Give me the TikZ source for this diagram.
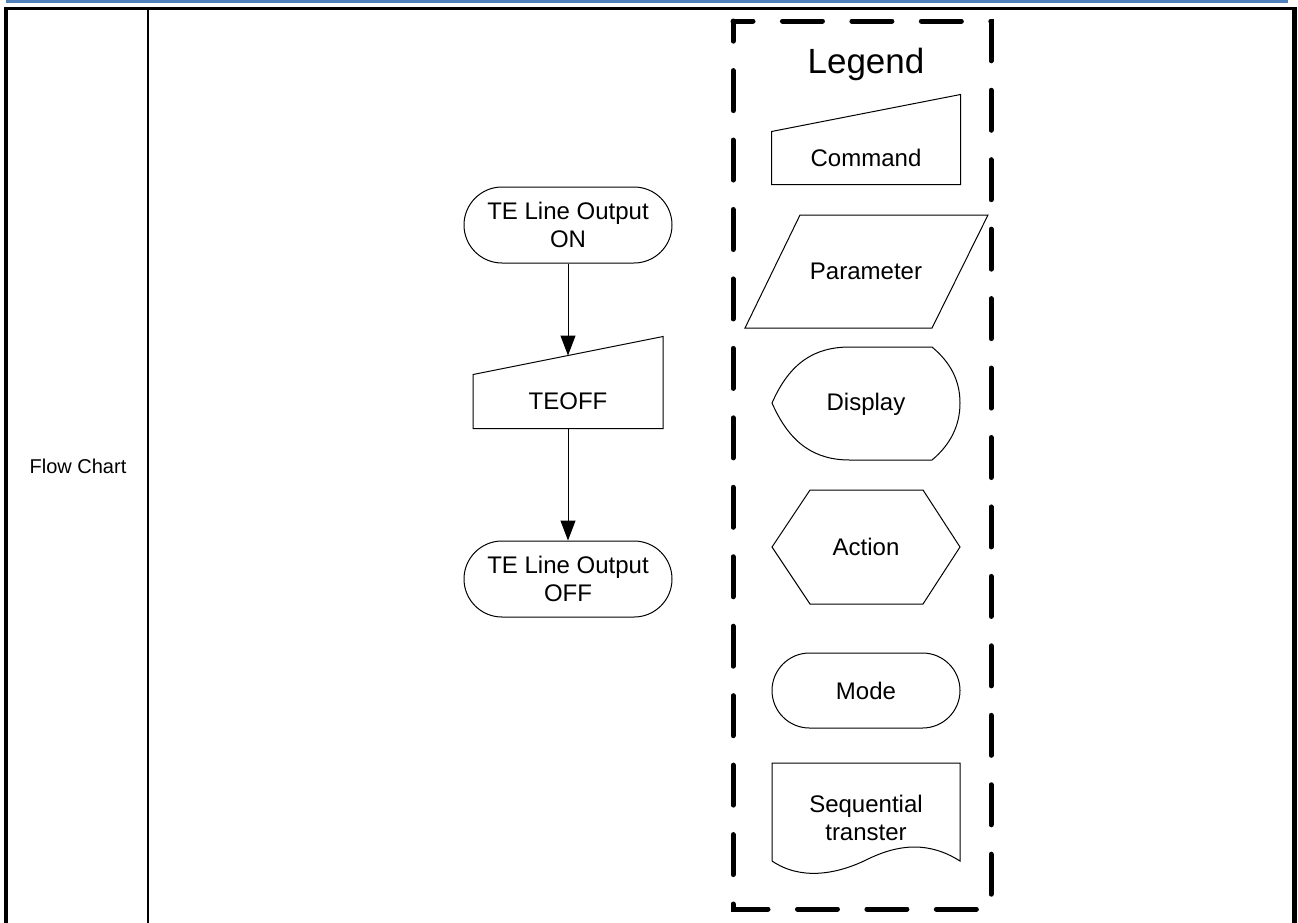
\documentclass[tikz,border=0pt]{standalone}
\usepackage{fontspec}
\setmainfont{Liberation Sans}
\usetikzlibrary{arrows.meta}
\definecolor{headblue}{RGB}{79,129,189}

\begin{document}
\begin{tikzpicture}[
x=1pt, y=-1pt,
line width=1pt,
every node/.style={
    inner sep=0pt,
    align=center,
    font=\fontsize{24}{28}\selectfont
},
term/.style={
    draw,
    rounded corners=38pt,
    minimum width=208pt,
    minimum height=76pt
},
>={Triangle[length=20pt,width=15pt]}
]

\useasboundingbox (0,0) rectangle (1298,922);

% page header and table
\draw[headblue, line width=3pt] (6,1.5) -- (1288,1.5);
\draw[line width=3pt] (4.5,8.5) -- (1296.5,8.5);
\draw[line width=4.5pt] (6,7) -- (6,930);
\draw[line width=4.5pt] (1294.5,7) -- (1294.5,930);
\draw[line width=2pt] (148,9) -- (148,930);

\node[font=\fontsize{20}{24}\selectfont] (title) at (78,466) {Flow Chart};

% flow
\node[term] (teon) at (568,225) {TE Line Output\\ON};

\node[minimum width=189pt, minimum height=53pt] (teoff) at (568,401.5) {TEOFF};
\draw (teoff.north west) -- ([yshift=38pt]teoff.north east) -- (teoff.south east) -- (teoff.south west) -- cycle;

\node[term] (teoffout) at (568,579) {TE Line Output\\OFF};

\draw[->] (teon) -- ([yshift=19pt]teoff.north);
\draw[->] (teoff) -- (teoffout);

% legend
\draw[line width=5pt, line cap=round, dash pattern=on 40pt off 29.45pt, dash phase=20pt]
  (733,21) -- (991,21) -- (991,909) -- (733,909) -- cycle;

\node[font=\fontsize{35}{42}\selectfont] (legend) at (866,64) {Legend};

\node[minimum width=188pt, minimum height=52pt] (cmd) at (866,158) {Command};
\draw (cmd.north west) -- ([yshift=37pt]cmd.north east) -- (cmd.south east) -- (cmd.south west) -- cycle;

\node (param) at (866,271.5) {Parameter};
\draw (800,215) -- (988,215) -- (932,328) -- (745,328) -- cycle;

\node (disp) at (866,404) {Display};
\draw (772,403) .. controls (790,362) and (815,347) .. (850,347) -- (932,347)
  .. controls (950,362) and (960,380) .. (960,403)
  .. controls (960,426) and (950,445) .. (932,460) -- (850,460)
  .. controls (815,460) and (790,444) .. (772,403) -- cycle;

\node (act) at (866,547) {Action};
\draw (772,547) -- (810,490) -- (923,490) -- (960,547) -- (923,604) -- (810,604) -- cycle;

\node[term, minimum width=188pt, minimum height=75pt, rounded corners=37.5pt] (mode) at (866,690.5) {Mode};

\node (seq) at (866,818) {Sequential\\transter};
\draw (772,861) -- (772,763) -- (960,763) -- (960,861)
  .. controls (930,842) and (900,843) .. (866,860)
  .. controls (835,875) and (800,880) .. (772,861);

\end{tikzpicture}
\end{document}
